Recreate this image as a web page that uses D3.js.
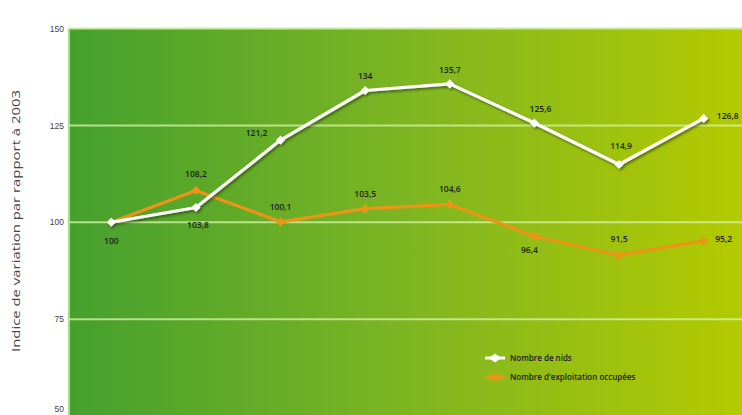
<!DOCTYPE html>
<html>
<head>
<meta charset="utf-8">
<script src="https://cdn.jsdelivr.net/npm/d3@7"></script>
<style>
  body { margin: 0; background: #fff; }
  svg { display: block; font-family: "Open Sans", "Noto Sans", sans-serif; }
</style>
</head>
<body>
<script>
// données
var annees = [2003, 2004, 2005, 2006, 2007, 2008, 2009, 2010];
var nids = [100, 103.8, 121.2, 134, 135.7, 125.6, 114.9, 126.8];
var exploitations = [100, 108.2, 100.1, 103.5, 104.6, 96.4, 91.5, 95.2];
var yTicks = [50, 75, 100, 125, 150];
var series = ["Nombre de nids", "Nombre d'exploitation occupées"];

// position des étiquettes (dx, dy) par point
var posNids = [[0, 19], [2, 17], [-24, -7], [0, -14], [0, -14], [6, -14], [2, -18], [24, -2]];
var posExpl = [[0, 0], [0, -16], [0, -15], [0, -15], [0, -15], [-5, 14], [0, -16], [20, -2]];

var largeur = 742, hauteur = 415;
var gauche = 69, haut = 28.5, bas = 416;

var svg = d3.select("body").append("svg").attr("width", largeur).attr("height", hauteur);

var fr = d3.formatLocale({ decimal: ",", thousands: " ", grouping: [3], currency: ["", "€"] });
var fmt = function (v) { return Number.isInteger(v) ? String(v) : fr.format(".1f")(v); };

var x = d3.scalePoint().domain(annees).range([gauche, 746]).padding(0.5);
var y = d3.scaleLinear().domain([50, 150]).range([bas, haut]);

// dégradé du fond
var defs = svg.append("defs");
var grad = defs.append("linearGradient").attr("id", "fond").attr("x1", "0%").attr("x2", "100%");
grad.append("stop").attr("offset", "0%").attr("stop-color", "#45a02e");
grad.append("stop").attr("offset", "50%").attr("stop-color", "#7db522");
grad.append("stop").attr("offset", "100%").attr("stop-color", "#b4ca00");

var ombre = defs.append("filter").attr("id", "ombre").attr("x", "-10%").attr("y", "-10%").attr("width", "120%").attr("height", "130%");
ombre.append("feDropShadow").attr("dx", 1.5).attr("dy", 2).attr("stdDeviation", 1.2)
    .attr("flood-color", "#1a3000").attr("flood-opacity", 0.55);

svg.append("rect")
    .attr("x", gauche).attr("y", haut)
    .attr("width", largeur - gauche).attr("height", bas - haut)
    .attr("fill", "url(#fond)");

// bordures claires
svg.append("line").attr("x1", gauche).attr("x2", largeur).attr("y1", haut).attr("y2", haut)
    .attr("stroke", "#c6ec9a").attr("stroke-width", 2);
svg.append("line").attr("x1", gauche).attr("x2", gauche).attr("y1", haut).attr("y2", bas)
    .attr("stroke", "#a6dc86").attr("stroke-width", 2);

// grille
svg.selectAll("line.grille")
    .data(yTicks.filter(function (d) { return d > 50 && d < 150; }))
    .enter().append("line")
    .attr("class", "grille")
    .attr("x1", gauche).attr("x2", largeur)
    .attr("y1", function (d) { return y(d); })
    .attr("y2", function (d) { return y(d); })
    .attr("stroke", "#d8f6a8").attr("stroke-opacity", 0.75).attr("stroke-width", 2);

// axe Y
var axeY = svg.append("g")
    .attr("transform", "translate(" + (gauche - 3) + ",0)")
    .call(d3.axisLeft(y).tickValues(yTicks).tickSize(0).tickPadding(2));
axeY.select(".domain").remove();
axeY.selectAll("text").attr("fill", "#444").style("font-size", "8.5px");
// le 50 tombe au bord du cadre : on le remonte pour qu'il reste lisible
axeY.selectAll(".tick").filter(function (d) { return d === 50; }).select("text").attr("dy", "-0.5em");

svg.append("text")
    .attr("transform", "translate(20,221) rotate(-90)")
    .attr("text-anchor", "middle")
    .attr("fill", "#444")
    .attr("textLength", 262)
    .attr("lengthAdjust", "spacingAndGlyphs")
    .style("font-size", "11.5px")
    .text("Indice de variation par rapport à 2003");

var ligne = d3.line()
    .x(function (d, i) { return x(annees[i]); })
    .y(function (d) { return y(d); });

var carre = d3.symbol().type(d3.symbolSquare).size(42);

function tracer(vals, couleur, pos, filtre) {
    var g = svg.append("g");
    if (filtre) g.attr("filter", "url(#ombre)");
    g.append("path").datum(vals)
        .attr("d", ligne)
        .attr("fill", "none")
        .attr("stroke", couleur)
        .attr("stroke-width", 3.2)
        .attr("stroke-linejoin", "round");
    g.selectAll("path.m").data(vals).enter().append("path")
        .attr("class", "m")
        .attr("d", carre)
        .attr("transform", function (d, i) { return "translate(" + x(annees[i]) + "," + y(d) + ") rotate(45)"; })
        .attr("fill", couleur);
    svg.append("g").selectAll("text").data(vals).enter().append("text")
        .attr("x", function (d, i) { return x(annees[i]) + pos[i][0]; })
        .attr("y", function (d, i) { return y(d) + pos[i][1]; })
        .attr("dy", "0.35em")
        .attr("text-anchor", "middle")
        .attr("fill", "#1c1c1c")
        .style("font-size", "8.5px")
        .style("font-weight", "600")
        .text(function (d, i) { return (i === 0 && pos[i][1] === 0) ? "" : fmt(d); });
}

tracer(exploitations, "#ec9416", posExpl, false);
tracer(nids, "#ffffff", posNids, true);

// légende
var leg = svg.append("g").attr("transform", "translate(485,358)");
var couleurs = ["#ffffff", "#ec9416"];
series.forEach(function (s, i) {
    var r = leg.append("g").attr("transform", "translate(0," + (i * 19) + ")");
    r.append("line").attr("x1", 0).attr("x2", 20).attr("stroke", couleurs[i]).attr("stroke-width", 3);
    r.append("path").attr("d", d3.symbol().type(d3.symbolSquare).size(40))
        .attr("transform", "translate(10,0) scale(1.4,1) rotate(45)").attr("fill", couleurs[i]);
    r.append("text").attr("x", 25).attr("dy", "0.35em").attr("fill", "#1c1c1c")
        .style("font-size", "8px").style("font-weight", "600").text(s);
});
</script>
</body>
</html>
